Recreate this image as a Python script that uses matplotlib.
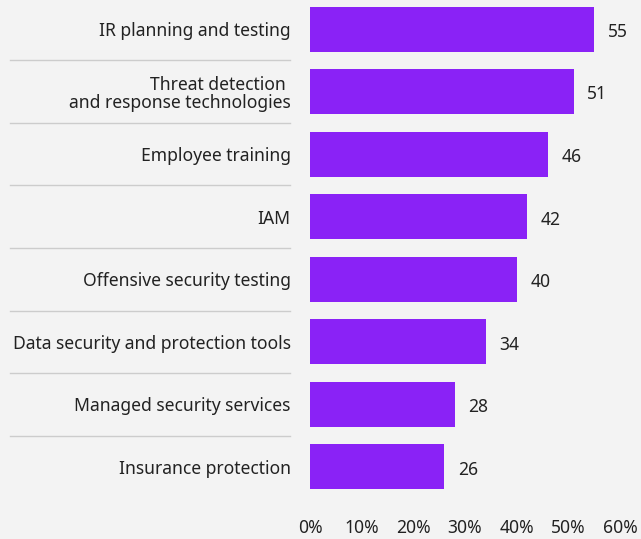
import matplotlib
matplotlib.use("Agg")
import matplotlib.pyplot as plt

categories = [
    "IR planning and testing",
    "Threat detection \nand response technologies",
    "Employee training",
    "IAM",
    "Offensive security testing",
    "Data security and protection tools",
    "Managed security services",
    "Insurance protection",
]
values = [55, 51, 46, 42, 40, 34, 28, 26]
xticks = [0, 10, 20, 30, 40, 50, 60]

bg = "#f3f3f3"
bar_color = "#8a22f6"
text_color = "#222222"

plt.rcParams["font.family"] = ["Noto Sans", "DejaVu Sans"]

fig = plt.figure(figsize=(6.41, 5.39), dpi=100, facecolor=bg)
ax = fig.add_axes([310 / 641, 44 / 539, 310 / 641, 494 / 539])
ax.set_facecolor(bg)

ypos = list(range(len(categories)))
ax.barh(ypos, values, height=0.72, color=bar_color)
ax.set_ylim(len(categories) - 0.55, -0.45)
ax.set_xlim(0, 60)

ax.set_yticks(ypos)
ax.set_yticklabels(categories, fontsize=12.6, color=text_color, linespacing=1.05)
ax.set_xticks(xticks)
ax.set_xticklabels([f"{t}%" for t in xticks], fontsize=12.6, color=text_color)
ax.tick_params(axis="y", length=0, pad=14)
ax.tick_params(axis="x", length=0, pad=17)
for s in ax.spines.values():
    s.set_visible(False)

for y, v in zip(ypos, values):
    ax.annotate(str(v), (v, y), xytext=(10, -2), textcoords="offset points",
                va="center", ha="left", fontsize=12.6, color=text_color)

# separators between category labels
for y in ypos[:-1]:
    ax.plot([-0.968, -0.0645], [y + 0.5, y + 0.5], color="#cccccc", lw=1,
            transform=ax.get_yaxis_transform(), clip_on=False)

fig.savefig("out.png", dpi=100, facecolor=bg)
